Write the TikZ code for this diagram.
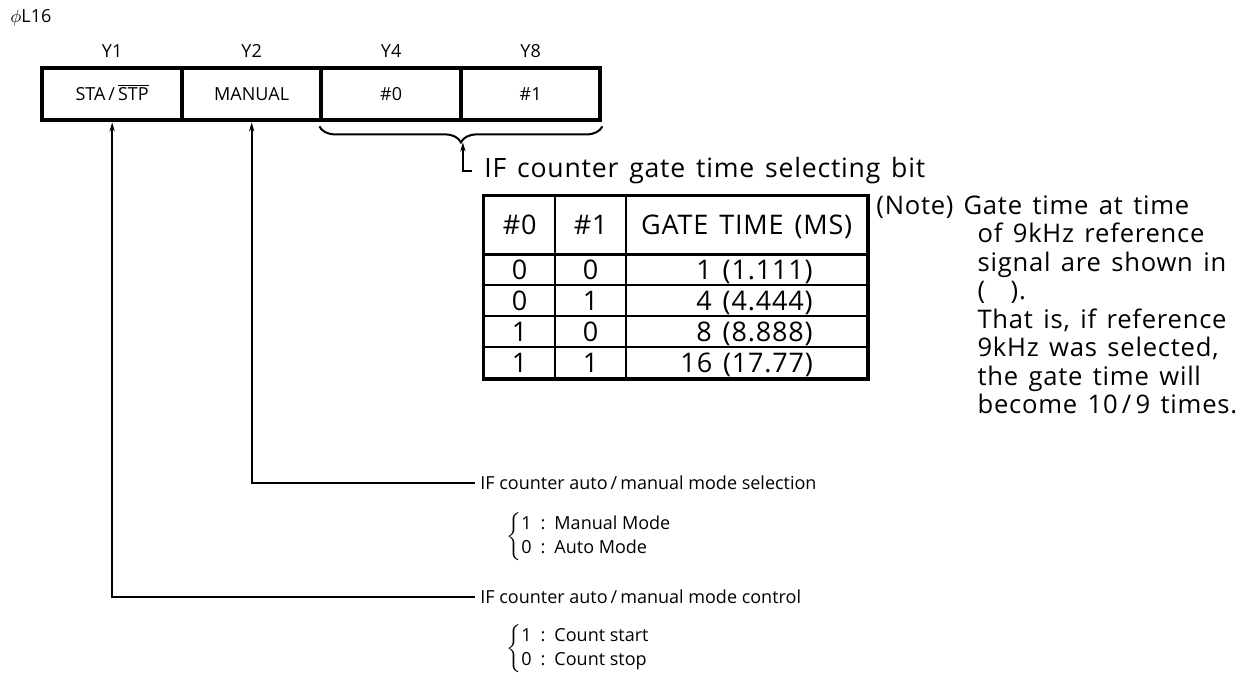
\documentclass[tikz,border=0pt]{standalone}
\usepackage{fontspec}
\setmainfont{Open Sans}
\newfontfamily\spaced[LetterSpace=3,WordSpace=1.4]{Open Sans}
\usepackage{tikz}
\usetikzlibrary{matrix,positioning,arrows.meta,decorations.pathreplacing,calc}

\begin{document}
\begin{tikzpicture}[x=0.5pt,y=-0.5pt]
\tikzset{regcell/.style={minimum width=69.75pt,minimum height=26pt,text height=7.5pt,text depth=1.1pt,draw,line width=2pt,anchor=center,font=\fontsize{9}{10}\selectfont,inner sep=0pt},
  tcell/.style={minimum width=35.5pt,minimum height=15.5pt,text height=12pt,text depth=2.4pt,draw,line width=0.8pt,anchor=center,font=\spaced\fontsize{13.5}{14}\selectfont,inner sep=0pt},
  sig/.style={line width=1pt,-{Stealth[length=4.5pt,width=2.6pt]}},
  small/.style={font=\fontsize{9}{12}\selectfont,inner ysep=1pt},
  big/.style={font=\spaced\fontsize{13.3}{16}\selectfont}}
\useasboundingbox (0,0) rectangle (1242,673);

\node[small,anchor=west,inner sep=0pt] (title) at (10,18) {$\phi$L16};
\matrix (reg) [matrix of nodes, nodes={regcell}, column sep=-2pt, inner sep=0pt, anchor=north west] at (40,66) {
STA\,/\,$\overline{\mbox{STP}}$ & MANUAL & \#0 & \#1 \\
};
\foreach \c/\y in {1/Y1,2/Y2,3/Y4,4/Y8}
  \node[small,above=3pt of reg-1-\c] (lab\c) {\y};

% gate time bits
\draw[line width=1pt,decorate,decoration={brace,amplitude=8pt}]
  ([yshift=-2pt]reg-1-4.south east) -- ([yshift=-2pt]reg-1-3.south west);
\coordinate (btip) at ([yshift=-10pt]reg-1-3.south east);
\node[big,anchor=west,inner xsep=6pt] (gbit) at (472,171) {IF counter gate time selecting bit};
\draw[sig] (gbit.west) -| (btip);

\matrix (tab) [matrix of nodes, nodes={tcell}, column sep=-0.8pt, row sep=-0.8pt, inner sep=0pt, anchor=north west,
  column 3/.style={nodes={minimum width=120.5pt}}, row 1/.style={nodes={minimum height=29pt}}] at (483,195) {
\#0 & \#1 & GATE TIME (MS) \\
0 & 0 & \phantom{1}1 (1.111) \\
0 & 1 & \phantom{1}4 (4.444) \\
1 & 0 & \phantom{1}8 (8.888) \\
1 & 1 & 16 (17.77) \\
};
\draw[line width=1.6pt] (tab-1-1.north west) rectangle (tab-5-3.south east);
\draw[line width=1.2pt] (tab-1-1.south west) -- (tab-1-3.south east);

% note
\node[anchor=north west,inner sep=0pt,font=\spaced\fontsize{12.8}{14.25}\selectfont] (note) at (876,194) {%
\begin{tabular}{@{}l@{\hspace{5pt}}l@{}}
(Note) & Gate time at time\\
 & \hspace*{7pt}of 9kHz reference\\
 & \hspace*{7pt}signal are shown in\\
 & \hspace*{7pt}(\quad).\\
 & \hspace*{7pt}That is, if reference\\
 & \hspace*{7pt}9kHz was selected,\\
 & \hspace*{7pt}the gate time will\\
 & \hspace*{7pt}become 10\,/\,9 times.
\end{tabular}};

% mode bits
\node[small,anchor=west,inner xsep=2.5pt] (msel) at (475,483) {IF counter auto\,/\,manual mode selection};
\draw[sig] (msel.west) -| (reg-1-2.south);
\node[small,anchor=west,inner sep=0pt] (selopt) at (506,537)
  {$\left\{\begin{tabular}{@{}l@{}}1\enspace:\enspace Manual Mode\\0\enspace:\enspace Auto Mode\end{tabular}\right.$};

\node[small,anchor=west,inner xsep=2.5pt] (mctl) at (475,597) {IF counter auto\,/\,manual mode control};
\draw[sig] (mctl.west) -| (reg-1-1.south);
\node[small,anchor=west,inner sep=0pt] (ctlopt) at (506,649)
  {$\left\{\begin{tabular}{@{}l@{}}1\enspace:\enspace Count start\\0\enspace:\enspace Count stop\end{tabular}\right.$};
\end{tikzpicture}
\end{document}
